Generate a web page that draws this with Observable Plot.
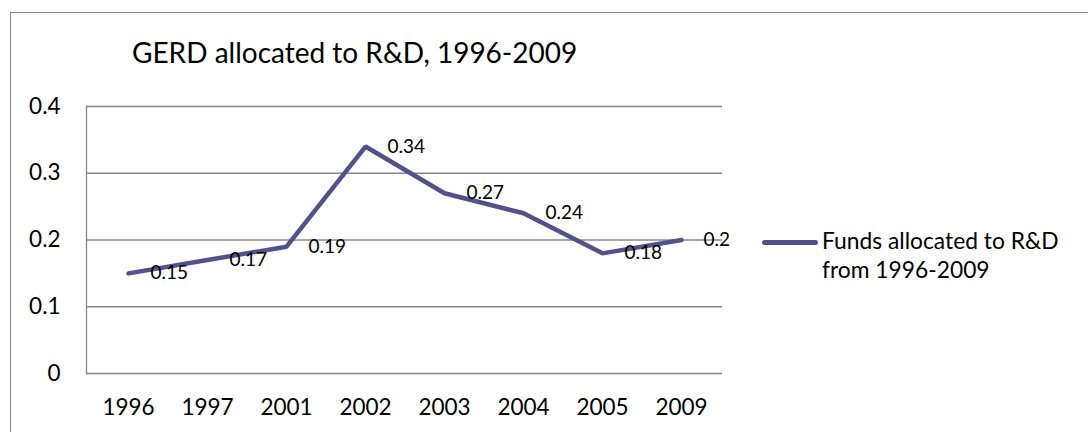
<!DOCTYPE html>
<html>
<head>
<meta charset="utf-8">
<script src="https://cdn.jsdelivr.net/npm/d3@7"></script>
<script src="https://cdn.jsdelivr.net/npm/@observablehq/plot@0.6"></script>
<style>
  html, body { margin: 0; padding: 0; background: #fff; }
  #wrap { position: relative; width: 1088px; height: 432px; overflow: hidden; font-family: Lato, "Open Sans", sans-serif; color: #000; }
  #border { position: absolute; left: 10px; top: 12px; width: 1200px; height: 600px; border: 1.5px solid #8a8a8a; box-sizing: border-box; }
  #title { position: absolute; left: 132px; top: 35px; font-size: 28px; line-height: 34px; white-space: nowrap; }
  #chart { position: absolute; left: 0; top: 0; }
  #legend { position: absolute; left: 762px; top: 226px; font-size: 22.8px; line-height: 29px; }
  #legend .sw { position: absolute; left: 0; top: 14px; width: 56px; height: 5px; border-radius: 3px; }
  #legend .tx { position: absolute; left: 60px; top: 0; white-space: nowrap; }
</style>
</head>
<body>
<div id="wrap">
  <div id="border"></div>
  <div id="chart"></div>
  <div id="title"></div>
  <div id="legend"><div class="sw"></div><div class="tx"></div></div>
</div>
<script>
const titleText = "GERD allocated to R&D, 1996-2009";
const years = ["1996", "1997", "2001", "2002", "2003", "2004", "2005", "2009"];
const funds = [0.15, 0.17, 0.19, 0.34, 0.27, 0.24, 0.18, 0.2];
const yTicks = [0, 0.1, 0.2, 0.3, 0.4];
const gridTicks = [0.1, 0.2, 0.3, 0.4];
const seriesName = ["Funds allocated to R&D", "from 1996-2009"];

const lineColor = "#505289";
const gridColor = "#888888";

const data = years.map((y, i) => ({year: y, value: funds[i]}));

const plot = Plot.plot({
  width: 1088,
  height: 432,
  marginLeft: 86,
  marginRight: 366,
  marginTop: 106,
  marginBottom: 59,
  style: {fontFamily: "Lato, 'Open Sans', sans-serif", background: "transparent", color: "#000"},
  x: {type: "point", domain: years, padding: 0.5, label: null},
  y: {domain: [0, 0.4], label: null},
  marks: [
    Plot.ruleY(gridTicks, {stroke: gridColor, strokeWidth: 1.3}),
    Plot.ruleY([0], {stroke: gridColor, strokeWidth: 1.3}),
    Plot.frame({anchor: "left", stroke: gridColor, strokeWidth: 1.3}),
    Plot.axisY({ticks: yTicks, tickSize: 0, tickPadding: 26, fontSize: 22.5, tickFormat: d => String(d), label: null}),
    Plot.axisX({tickSize: 0, tickPadding: 26, fontSize: 22.5, label: null}),
    Plot.line(data, {x: "year", y: "value", stroke: lineColor, strokeWidth: 4.5, strokeLinejoin: "miter", strokeLinecap: "round"}),
    Plot.text(data, {x: "year", y: "value", text: d => String(d.value), dx: 22, textAnchor: "start", fontSize: 19, fill: "#000"})
  ]
});
document.getElementById("chart").appendChild(plot);
document.getElementById("title").textContent = titleText;
document.querySelector("#legend .sw").style.background = lineColor;
document.querySelector("#legend .tx").innerHTML = seriesName.map(s => s.replace(/&/g, "&amp;")).join("<br>");
</script>
</body>
</html>
